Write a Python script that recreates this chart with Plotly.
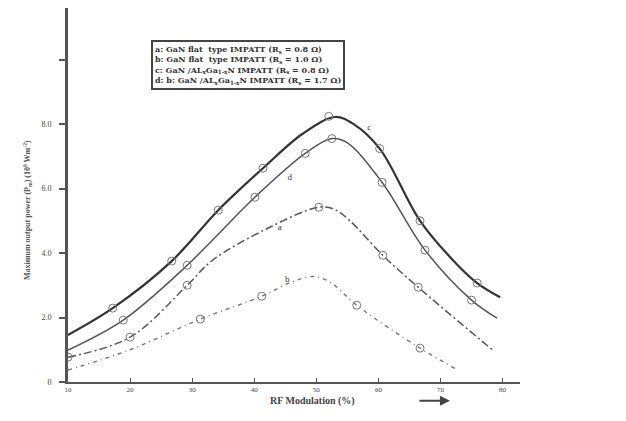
import plotly.graph_objects as go

# ---- data ----
# curve lines (smooth curves through read points)
c_x = [10, 17.2, 26.7, 34.2, 41.4, 47.8, 53, 56, 60.2, 66.7, 72, 75.9, 79.6]
c_y = [1.46, 2.29, 3.75, 5.33, 6.63, 7.7, 8.22, 8.0, 7.24, 5.0, 3.78, 3.07, 2.63]
d_x = [10, 18.9, 29.2, 40.1, 48.2, 52.5, 54.9, 60.6, 67.5, 75, 79.1]
d_y = [0.99, 1.92, 3.62, 5.73, 7.09, 7.55, 7.43, 6.19, 4.09, 2.54, 1.98]
a_x = [10, 20, 29.2, 33.3, 42.5, 50.4, 53, 55.4, 60.7, 66.4, 78.4]
a_y = [0.77, 1.39, 3.0, 3.78, 4.8, 5.42, 5.35, 5.0, 3.93, 2.94, 0.99]
b_x = [10, 20, 31.3, 41.2, 46, 49.5, 52.2, 56.5, 66.7, 72.8]
b_y = [0.37, 1.0, 1.95, 2.66, 3.1, 3.27, 3.1, 2.38, 1.05, 0.37]

# open-circle markers
c_mx = [17.2, 26.7, 34.2, 41.4, 52, 60.2, 66.7, 75.9]
c_my = [2.29, 3.75, 5.33, 6.63, 8.24, 7.24, 5.0, 3.07]
d_mx = [18.9, 29.2, 40.1, 48.2, 52.5, 60.6, 67.5, 75]
d_my = [1.92, 3.62, 5.73, 7.09, 7.55, 6.19, 4.09, 2.54]
a_mx = [10, 20, 29.2, 50.4, 60.7, 66.4]
a_my = [0.77, 1.39, 3.0, 5.42, 3.93, 2.94]
b_mx = [31.3, 41.2, 56.5, 66.7]
b_my = [1.95, 2.66, 2.38, 1.05]

x_ticks = [10, 20, 30, 40, 50, 60, 70, 80]
y_ticks = [0, 2, 4, 6, 8, 10]
y_tick_text = ["0", "2.0", "4.0", "6.0", "8.0", " "]

curve_labels = ["c", "d", "a", "b"]
label_x = [58.5, 45.7, 44.1, 45.3]
label_y = [7.9, 6.35, 4.77, 3.16]

legend_lines = [
    "a: GaN flat  type IMPATT (R<sub>s</sub> = 0.8 Ω)",
    "b: GaN flat  type IMPATT (R<sub>s</sub> = 1.0 Ω)",
    "c: GaN /AL<sub>x</sub>Ga<sub>1-x</sub>N IMPATT (R<sub>s</sub> = 0.8 Ω)",
    "d: b: GaN /AL<sub>x</sub>Ga<sub>1-x</sub>N IMPATT (R<sub>s</sub> = 1.7 Ω)",
]

FONT = "Liberation Serif"

fig = go.Figure()

styles = [
    (c_x, c_y, dict(color="#333333", width=2.2, dash="solid")),
    (d_x, d_y, dict(color="#555555", width=1.5, dash="solid")),
    (a_x, a_y, dict(color="#555555", width=1.5, dash="8px,3px,2px,3px")),
    (b_x, b_y, dict(color="#777777", width=1.4, dash="4px,4px,1px,4px")),
]
for xs, ys, ln in styles:
    fig.add_trace(go.Scatter(x=xs, y=ys, mode="lines",
                             line=dict(shape="spline", smoothing=1.0, **ln),
                             showlegend=False, hoverinfo="skip"))

for mx, my in [(c_mx, c_my), (d_mx, d_my), (a_mx, a_my), (b_mx, b_my)]:
    fig.add_trace(go.Scatter(x=mx, y=my, mode="markers",
                             marker=dict(symbol="circle-open", size=8,
                                         color="#777777", line=dict(width=1)),
                             showlegend=False, hoverinfo="skip"))

fig.add_trace(go.Scatter(x=label_x, y=label_y, mode="text", text=curve_labels,
                         textfont=dict(family=FONT, size=9, color="#333333"),
                         showlegend=False, hoverinfo="skip"))

fig.update_layout(
    width=626, height=421,
    margin=dict(l=60, r=114, t=0, b=47),
    paper_bgcolor="white", plot_bgcolor="white",
    font=dict(family=FONT, color="#333333"),
    xaxis=dict(range=[10, 82.8], tickvals=x_ticks, ticks="inside", ticklen=4,
               tickcolor="#555555", showline=True, linecolor="#555555",
               linewidth=2, showgrid=False, zeroline=False,
               tickfont=dict(size=7, family=FONT, color="#444444")),
    yaxis=dict(range=[0, 11.6], tickvals=y_ticks, ticktext=y_tick_text,
               ticks="outside", ticklen=6, tickwidth=1.5, tickcolor="#555555",
               ticklabelstandoff=6,
               showline=True, linecolor="#555555", linewidth=3,
               showgrid=False, zeroline=False,
               tickfont=dict(size=8, family=FONT, color="#444444")),
)

# y axis title
fig.add_annotation(xref="paper", yref="paper", x=-0.105, y=0.46,
                   text="<b>Maximum output power (P<sub>m</sub>) (10<sup>9</sup> Wm<sup>-2</sup>)</b>",
                   textangle=-90, showarrow=False,
                   font=dict(family=FONT, size=8, color="#555555"))
# x axis title
fig.add_annotation(xref="paper", yref="paper", x=0.54, y=-0.05,
                   yanchor="middle", text="<b>RF Modulation (%)</b>", showarrow=False,
                   font=dict(family=FONT, size=10, color="#444444"))
# arrow next to x title
fig.add_annotation(xref="paper", yref="paper", x=0.845, y=-0.05,
                   ax=-32, ay=0, axref="pixel", ayref="pixel",
                   text="", showarrow=True, arrowhead=2, arrowsize=1,
                   arrowwidth=2, arrowcolor="#444444")

# legend box
fig.add_annotation(xref="paper", yref="paper", x=0.184, y=0.914,
                   xanchor="left", yanchor="top", align="left",
                   text="<br>".join("<b>" + t + "</b>" for t in legend_lines),
                   showarrow=False, bgcolor="white",
                   bordercolor="#444444", borderwidth=2, borderpad=2,
                   font=dict(family="DejaVu Serif", size=8, color="#333333"))

fig.write_html("out.html")
